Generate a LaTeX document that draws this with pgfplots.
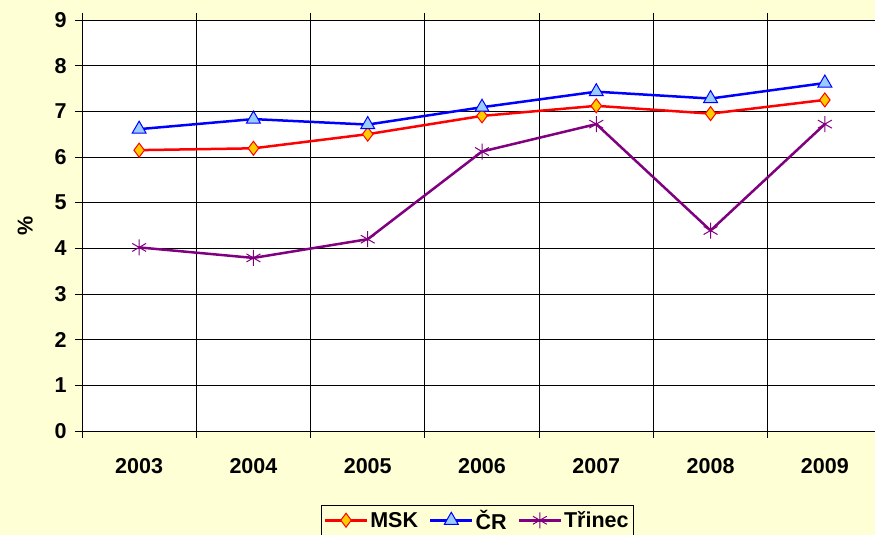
\documentclass[border=0pt]{standalone}
\usepackage{fontspec}
\setmainfont{Liberation Sans}
\usepackage{pgfplots}
\pgfplotsset{compat=1.18}
\usetikzlibrary{backgrounds}
\definecolor{bgy}{RGB}{255,255,214}
\definecolor{msk}{RGB}{255,0,0}
\definecolor{mskfill}{RGB}{255,204,0}
\definecolor{cr}{RGB}{0,0,255}
\definecolor{crfill}{RGB}{153,204,255}
\definecolor{tri}{RGB}{128,0,128}
\begin{document}
\begin{tikzpicture}
\begin{axis}[
  scale only axis, width=800pt, height=411pt,
  axis background/.style={fill=white},
  xmin=-0.5, xmax=6.5, ymin=0, ymax=9,
  xtick={0,1,2,3,4,5,6},
  xticklabels={2003,2004,2005,2006,2007,2008,2009},
  minor xtick={-0.5,0.5,1.5,2.5,3.5,4.5,5.5,6.5},
  ytick={0,1,...,9},
  xminorgrids, ymajorgrids,
  major x tick style={draw=none},
  minor tick length=7pt, major tick length=7pt,
  tick align=outside,
  tick style={black, line width=0.8pt},
  grid style={black, line width=0.8pt},
  minor grid style={black, line width=0.8pt},
  axis line style={black, line width=0.8pt},
  /pgf/number format/assume math mode=true,
  ticklabel style={font=\fontsize{21.5}{24}\selectfont\bfseries},
  xticklabel style={yshift=-17pt},
  yticklabel style={xshift=-5pt},
  ylabel={\%},
  every axis y label/.style={at={(axis description cs:-0.071,0.5)}, rotate=90, anchor=center, font=\fontsize{21.5}{24}\selectfont\bfseries},
  legend columns=-1,
  legend style={at={(0.494,-0.18)}, anchor=north, draw=black, line width=0.8pt, fill=bgy,
    font=\fontsize{21.5}{24}\selectfont\bfseries, inner sep=2.5pt,
    /tikz/every even column/.append style={column sep=9pt}},
  legend image code/.code={\draw[mark repeat=2,mark phase=2] plot coordinates {(0pt,0pt) (21pt,0pt) (42pt,0pt)};},
]
\coordinate (sw) at (rel axis cs:0,0);
\addplot[msk, line width=2.5pt, mark=diamond*, mark size=7pt, mark options={fill=mskfill, draw=msk, line width=1pt}]
  coordinates {(0,6.15) (1,6.19) (2,6.5) (3,6.9) (4,7.12) (5,6.95) (6,7.25)};
\addlegendentry{MSK}
\addplot[cr, line width=2.5pt, mark=triangle*, mark size=8pt, mark options={fill=crfill, draw=cr, line width=1pt}]
  coordinates {(0,6.61) (1,6.83) (2,6.71) (3,7.09) (4,7.43) (5,7.28) (6,7.62)};
\addlegendentry{ČR}
\addplot[tri, line width=2.5pt, mark=asterisk, mark size=8pt, mark options={draw=tri, line width=1pt}]
  coordinates {(0,4.02) (1,3.79) (2,4.2) (3,6.12) (4,6.72) (5,4.39) (6,6.72)};
\addlegendentry{Třinec}
\end{axis}
\pgfresetboundingbox
\path[use as bounding box] ([xshift=-82pt,yshift=-104pt]sw) rectangle ++(875pt,535pt);
\begin{scope}[on background layer]
\fill[bgy] ([xshift=-82pt,yshift=-104pt]sw) rectangle ++(875pt,535pt);
\end{scope}
\end{tikzpicture}
\end{document}
